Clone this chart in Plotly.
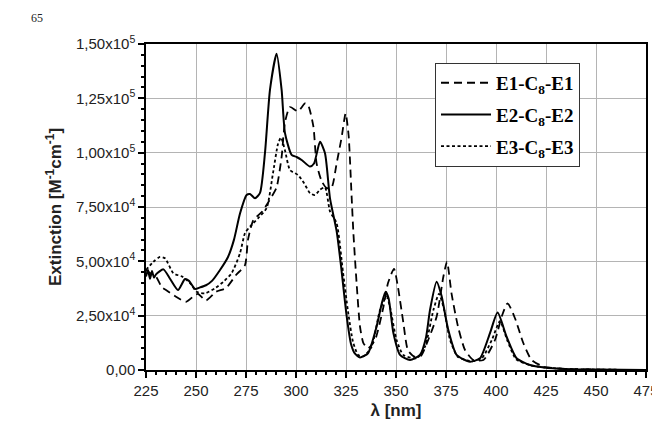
import plotly.graph_objects as go

# ---- data ----
e1_x = [225, 228, 230, 233, 235, 240, 245, 249.5, 251, 255, 260, 265, 270, 274.5, 276, 278.7, 283, 286,
        288, 290.3, 292.8, 294.5, 297, 301, 304.5, 306, 308.7, 310.3, 312.8, 315.3, 317.8, 320.3, 322.8,
        324.8, 326.3, 327.8, 328.7, 330.3, 332, 333.7, 336, 339.5, 343.7, 346, 349, 351, 353.7, 356,
        359.5, 362.5, 365.3, 370.3, 373.7, 375.5, 377.8, 381, 384.5, 388.7, 393.7, 399.5, 403, 405.8,
        409.5, 413.7, 417.8, 424, 435, 450, 475]
e1_y = [46000, 44000, 43000, 38000, 36800, 33700, 31400, 34500, 35000, 32000, 36000, 37700, 43700, 48300,
        60000, 69000, 72800, 77000, 80000, 84000, 98000, 114000, 121000, 119000, 122700, 122000, 112000,
        95000, 87000, 83700, 84000, 95000, 107000, 118000, 108000, 80000, 63000, 40000, 20000, 12400,
        10000, 13800, 29000, 40000, 46500, 38000, 21600, 9000, 6000, 6500, 12000, 24500, 43000, 49800,
        35000, 20000, 9200, 4600, 4600, 13800, 25000, 30700, 23800, 12300, 4600, 1500, 500, 200, 0]

e2_x = [225, 226, 227, 228, 229, 230, 233.7, 237, 241, 244.5, 246.5, 249.5, 252, 255, 258, 262, 266, 269,
        272, 275.3, 277, 279.5, 282, 284.5, 287, 290.3, 292.8, 294.5, 297.8, 300.3, 303, 307, 309, 312,
        314.5, 317, 320.3, 322.5, 325.3, 327.5, 329.5, 332, 336, 340.3, 343, 344.8, 346.3, 348.7, 352,
        357, 362, 365, 367, 370.3, 372.8, 376, 380.3, 387, 392, 397, 400.8, 405.3, 410.3, 417, 424, 435,
        450, 475]
e2_y = [43000, 46000, 42000, 45500, 42500, 44000, 46300, 42000, 36800, 41900, 41000, 37300, 38000, 39000,
        41000, 46000, 52000, 60000, 72000, 80500, 81000, 79000, 81500, 100000, 129000, 145500, 129000,
        109000, 99000, 98000, 96500, 93600, 95000, 105000, 99700, 79000, 64000, 48000, 25000, 12000,
        7500, 5800, 7700, 20000, 31000, 36000, 33000, 17000, 7000, 4600, 6900, 15000, 27600, 40600, 34000,
        19000, 7000, 3800, 5400, 17000, 26400, 15300, 5400, 2300, 1200, 500, 200, 0]

e3_x = [225, 228.7, 232, 234.5, 238.7, 243, 247, 250.3, 254.5, 259.5, 263.7, 267.8, 272, 274.5, 277, 281,
        285.3, 288.5, 291, 292.5, 294.5, 297, 301, 304, 307, 309.5, 312, 314.5, 317, 320.3, 323.5, 326,
        328.5, 331, 333.7, 337.8, 342, 345.3, 347, 350.3, 353.7, 360.3, 364.5, 368.7, 371.5, 374, 377,
        381, 388, 393, 398, 402, 405.5, 410, 417, 424, 435, 450, 475]
e3_y = [46000, 49800, 52000, 51400, 44500, 43000, 40000, 36000, 35300, 37600, 40600, 44500, 53700, 63000,
        66000, 69800, 74500, 90600, 104000, 107000, 101000, 92000, 89700, 86000, 81400, 80500, 83000,
        84000, 73000, 67600, 45000, 27000, 13000, 7000, 6300, 10700, 27600, 33700, 29000, 13800, 6900,
        5400, 10700, 27600, 35000, 28000, 14000, 6000, 4000, 5500, 14000, 22500, 14000, 5000, 2200, 1200,
        500, 200, 0]

names = ["<b>E1-C<sub>8</sub>-E1</b>", "<b>E2-C<sub>8</sub>-E2</b>", "<b>E3-C<sub>8</sub>-E3</b>"]

x_ticks = [225, 250, 275, 300, 325, 350, 375, 400, 425, 450, 475]
y_ticks = [0, 25000, 50000, 75000, 100000, 125000, 150000]
y_ticktext = ["0,00", "2,50x10<sup>4</sup>", "5,00x10<sup>4</sup>", "7,50x10<sup>4</sup>",
              "1,00x10<sup>5</sup>", "1,25x10<sup>5</sup>", "1,50x10<sup>5</sup>"]

fig = go.Figure()
styles = [dict(dash="8px,5px", width=1.8), dict(dash="solid", width=2.0), dict(dash="3px,2.5px", width=1.8)]
for i, (xs, ys, nm, st) in enumerate(zip([e1_x, e2_x, e3_x], [e1_y, e2_y, e3_y], names, styles)):
    fig.add_trace(go.Scatter(x=xs, y=ys, name=nm, mode="lines", legendgroup=f"g{i}",
                             line=dict(color="black", width=st["width"], dash=st["dash"],
                                       shape="spline", smoothing=0.6)))

axis_common = dict(showline=True, linecolor="black", linewidth=1.5, mirror=True,
                   ticks="outside", ticklen=6, tickwidth=1.5, tickcolor="black",
                   showgrid=True, gridcolor="#b4b4b4", gridwidth=1, zeroline=False, automargin=False,
                   tickfont=dict(family="Liberation Sans", size=15, color="#222"))

fig.update_xaxes(range=[225, 475], tickvals=x_ticks, ticktext=[str(v) for v in x_ticks],
                 minor=dict(dtick=5, ticks="outside", ticklen=3, tickcolor="black", showgrid=False),
                 title=dict(text="<b>λ [nm]</b>", font=dict(family="Liberation Sans", size=17, color="#222"),
                            standoff=6),
                 **axis_common)
fig.update_yaxes(range=[0, 150000], tickvals=y_ticks, ticktext=y_ticktext,
                 minor=dict(dtick=5000, ticks="outside", ticklen=3, tickcolor="black", showgrid=False),
                 title=dict(text="<b>Extinction [M<sup>-1</sup>cm<sup>-1</sup>]</b>",
                            font=dict(family="Liberation Sans", size=17, color="#222"), standoff=10),
                 **axis_common)

# the page body adds an 8px offset, so the figure is sized 8px smaller than the window
fig.update_layout(
    width=652, height=418,
    margin=dict(l=138, r=14, t=36, b=56),
    paper_bgcolor="white", plot_bgcolor="white",
    showlegend=True,
    legend=dict(x=0.578, y=0.942, xanchor="left", yanchor="top",
                bgcolor="white", bordercolor="#333", borderwidth=1,
                font=dict(family="Liberation Serif, Times New Roman, serif", size=19, color="black"),
                tracegroupgap=4, itemwidth=50),
    annotations=[dict(text="65", x=(37 - 146) / 500, y=(370 - 18) / 326, xref="paper", yref="paper",
                      showarrow=False, xanchor="center", yanchor="middle",
                      font=dict(family="Liberation Serif, serif", size=12, color="#222"))],
)

fig.write_html("out.html")
